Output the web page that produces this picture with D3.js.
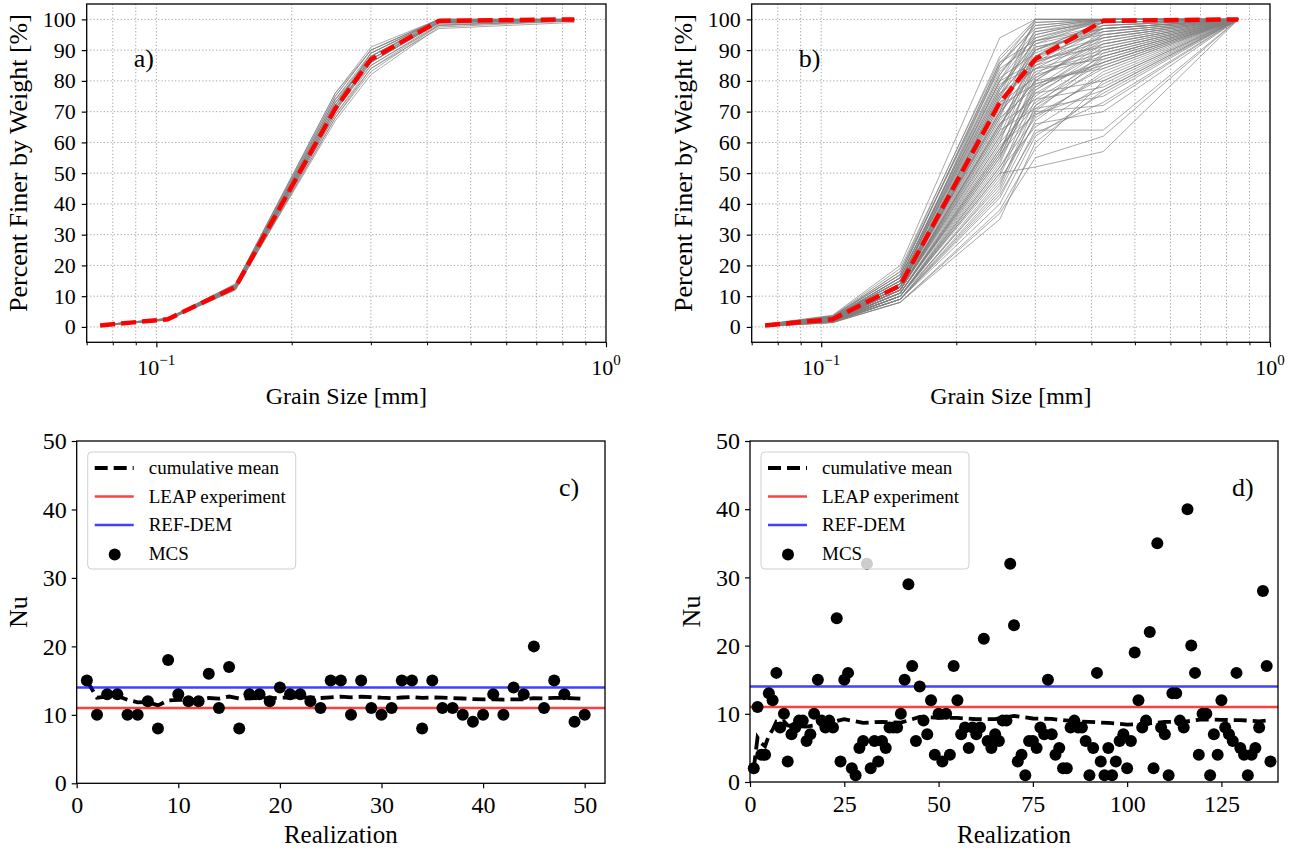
<!DOCTYPE html>
<html>
<head>
<meta charset="utf-8">
<script src="https://cdn.jsdelivr.net/npm/d3@7/dist/d3.min.js"></script>
<style>
body { margin: 0; background: #fff; }
text { font-family: 'Liberation Serif', 'Times New Roman', serif; fill: #000; }
</style>
</head>
<body>
<div id="chart"></div>
<script>
// sieve sizes [mm]
const sieve = [0.075, 0.106, 0.15, 0.25, 0.3, 0.425, 0.85];

// mean gradation curves (red dashed)
const meanA = [0.5, 2.5, 13, 71, 87, 99.5, 100];
const meanB = [0.5, 2.5, 13.5, 73, 87, 99.5, 100];

// realizations of panel a (tight band)
const curvesA = [
  [0.5, 2.4, 12.5, 70, 86, 99, 100],
  [0.5, 2.6, 13.5, 74, 89, 100, 100],
  [0.4, 2.3, 12, 68, 83, 98, 100],
  [0.6, 2.7, 14, 75, 90, 100, 100],
  [0.5, 2.5, 13, 72, 88, 99.5, 100],
  [0.5, 2.5, 12.8, 69, 84, 97, 99],
  [0.5, 2.6, 13.2, 73, 87, 99, 100],
  [0.4, 2.2, 12.2, 67, 82, 97.5, 99.5],
  [0.6, 2.8, 14, 76, 91, 100, 100],
  [0.5, 2.4, 12.6, 71, 86, 99, 100],
  [0.5, 2.5, 13, 72, 89, 100, 100],
  [0.5, 2.5, 13.4, 74, 88, 99, 100],
  [0.4, 2.3, 12.4, 69, 85, 98.5, 99.8],
  [0.5, 2.7, 13.6, 75, 90, 99.8, 100],
  [0.5, 2.5, 13, 70, 87, 99, 100],
  [0.5, 2.4, 12.8, 71, 85, 98, 99.6],
  [0.6, 2.6, 13.3, 73, 88, 100, 100],
  [0.5, 2.5, 12.9, 72, 86, 99.2, 100],
  [0.5, 2.5, 13.1, 71, 89, 99.6, 100],
  [0.4, 2.3, 12.3, 68, 84, 98.2, 99.4],
  [0.6, 2.7, 13.8, 76, 90, 100, 100],
  [0.5, 2.5, 13, 73, 87, 99, 100],
  [0.5, 2.4, 12.7, 70, 88, 99.3, 100],
  [0.5, 2.6, 13.2, 74, 86, 98.8, 100],
  [0.5, 2.5, 13, 71, 87, 99.5, 100]
];

// realizations of panel b (wide band)
const curvesB = [
  [0.5, 2.5, 13, 72, 88, 99, 100], [0.3, 2, 10, 55, 80, 95, 100],
  [0.6, 3, 15, 80, 95, 100, 100], [0.4, 2, 9, 45, 70, 88, 100],
  [0.8, 3.5, 18, 88, 100, 100, 100], [0.2, 1.5, 8, 38, 58, 80, 100],
  [0.5, 2.5, 12, 65, 85, 97, 100], [0.7, 3, 16, 82, 98, 100, 100],
  [0.3, 1.8, 11, 58, 75, 90, 100], [0.5, 2.2, 13, 70, 92, 100, 100],
  [0.9, 3.8, 20, 94, 100, 100, 100], [0.4, 2, 10, 50, 52, 57, 100],
  [0.3, 1.6, 9, 42, 64, 64, 100], [0.5, 2.7, 14, 75, 90, 99, 100],
  [0.6, 2.9, 12, 68, 78, 86, 100], [0.2, 1.4, 8, 35, 60, 77, 100],
  [0.5, 2.4, 12, 62, 88, 100, 100], [0.4, 2.1, 11, 56, 70, 72, 100],
  [0.7, 3.2, 15, 78, 93, 98, 100], [0.5, 2.6, 13, 74, 84, 90, 100],
  [0.3, 1.9, 10, 52, 68, 82, 100], [0.6, 3, 14, 85, 100, 100, 100],
  [0.4, 2.3, 12, 66, 80, 94, 100], [0.5, 2.5, 11, 60, 73, 86, 100],
  [0.8, 3.4, 17, 86, 97, 100, 100], [0.3, 1.7, 9, 48, 66, 70, 100],
  [0.6, 2.8, 13, 76, 88, 96, 100], [0.5, 2.4, 12, 64, 90, 99, 100],
  [0.4, 2, 10, 54, 78, 92, 100], [0.7, 3.1, 16, 80, 86, 93, 100],
  [0.5, 2.6, 14, 70, 82, 88, 100], [0.2, 1.5, 9, 40, 62, 76, 100],
  [0.6, 2.9, 15, 77, 96, 100, 100], [0.4, 2.2, 11, 58, 72, 84, 100],
  [0.5, 2.5, 13, 68, 94, 100, 100], [0.3, 1.8, 10, 46, 72, 89, 100],
  [0.7, 3.3, 18, 84, 92, 97, 100], [0.5, 2.3, 12, 63, 76, 80, 100],
  [0.4, 2.1, 11, 57, 84, 95, 100], [0.6, 2.7, 14, 73, 87, 91, 100],
  [0.5, 2.5, 12, 66, 74, 78, 100], [0.8, 3.6, 19, 87, 99, 100, 100],
  [0.3, 1.7, 9, 44, 67, 83, 100], [0.5, 2.6, 13, 71, 90, 97, 100],
  [0.6, 3, 15, 79, 85, 92, 100], [0.4, 2, 10, 53, 79, 86, 100],
  [0.5, 2.4, 12, 61, 82, 96, 100], [0.7, 3.2, 16, 83, 94, 99, 100],
  [0.4, 2.1, 11, 59, 69, 77, 100], [0.5, 2.5, 13, 69, 86, 94, 100],
  [0.3, 1.9, 10, 50, 77, 91, 100], [0.6, 2.8, 14, 75, 100, 100, 100],
  [0.5, 2.3, 12, 64, 71, 75, 100], [0.4, 2.2, 11, 55, 81, 93, 100],
  [0.6, 2.9, 15, 78, 91, 95, 100], [0.5, 2.6, 13, 72, 79, 85, 100],
  [0.2, 1.4, 8, 37, 55, 62, 100], [0.7, 3, 16, 81, 89, 98, 100],
  [0.5, 2.5, 12, 67, 83, 89, 100], [0.4, 2, 10, 49, 74, 87, 100],
  [0.6, 2.7, 14, 74, 97, 100, 100], [0.5, 2.4, 13, 65, 88, 94, 100],
  [0.3, 1.8, 10, 51, 65, 79, 100], [0.8, 3.5, 17, 86, 93, 100, 100],
  [0.5, 2.5, 12, 62, 77, 90, 100], [0.6, 2.8, 14, 76, 84, 87, 100],
  [0.4, 2.1, 11, 56, 86, 98, 100], [0.5, 2.6, 13, 70, 95, 100, 100],
  [0.7, 3.1, 15, 80, 99, 100, 100], [0.4, 2, 9, 47, 69, 81, 100],
  [0.6, 2.7, 13, 73, 81, 92, 100], [0.5, 2.5, 14, 69, 91, 96, 100],
  [0.3, 1.6, 9, 43, 63, 73, 100], [0.6, 3, 16, 82, 96, 99, 100],
  [0.5, 2.3, 12, 60, 87, 97, 100], [0.4, 2.2, 11, 57, 76, 88, 100],
  [0.7, 3.3, 17, 85, 98, 100, 100], [0.5, 2.4, 12, 66, 80, 84, 100],
  [0.6, 2.9, 14, 77, 93, 97, 100], [0.3, 1.9, 10, 52, 71, 85, 100]
];

// Nu per realization, panel c (50 runs)
const nuC = [15, 10, 13, 13, 10, 10, 12, 8, 18, 13, 12, 12, 16, 11, 17, 8, 13, 13, 12, 14,
  13, 13, 12, 11, 15, 15, 10, 15, 11, 10, 11, 15, 15, 8, 15, 11, 11, 10, 9, 10,
  13, 10, 14, 13, 20, 11, 15, 13, 9, 10];
const cumC = [15, 12.5, 12.67, 12.75, 12.2, 11.83, 11.86, 11.38, 12.11, 12.2, 12.18, 12.17,
  12.46, 12.36, 12.67, 12.38, 12.41, 12.44, 12.42, 12.5, 12.52, 12.55, 12.52, 12.46,
  12.56, 12.65, 12.56, 12.64, 12.59, 12.5, 12.45, 12.53, 12.61, 12.47, 12.54, 12.5,
  12.46, 12.39, 12.31, 12.25, 12.27, 12.21, 12.26, 12.27, 12.44, 12.41, 12.47, 12.48,
  12.41, 12.36];

// Nu per realization, panel d (138 runs)
const nuD = [2, 11, 4, 4, 13, 12, 16, 8, 10, 3, 7, 8, 9, 9, 6, 7, 10, 15, 9, 8,
  9, 8, 24, 3, 15, 16, 2, 1, 5, 6, 32, 2, 6, 3, 6, 5, 8, 8, 8, 10,
  15, 29, 17, 6, 14, 9, 7, 12, 4, 10, 3, 10, 4, 17, 12, 7, 8, 5, 8, 7,
  8, 21, 6, 5, 7, 6, 9, 9, 32, 23, 3, 4, 1, 6, 6, 5, 8, 7, 15, 7,
  4, 5, 2, 2, 8, 9, 8, 8, 6, 1, 5, 16, 3, 1, 5, 1, 3, 6, 7, 2,
  6, 19, 12, 8, 9, 22, 2, 35, 8, 7, 1, 13, 13, 9, 8, 40, 20, 16, 4, 10,
  10, 1, 7, 4, 12, 8, 7, 6, 16, 5, 4, 1, 4, 5, 8, 28, 17, 3];
const cumDx = [1, 2, 3, 4, 5, 6, 7, 8, 9, 10, 12, 15, 20, 25, 30, 35, 40, 45, 50, 55, 60,
  65, 70, 75, 80, 85, 90, 95, 100, 105, 110, 115, 120, 125, 130, 135, 138];
const cumD = [2, 6.5, 5.67, 5.25, 6.8, 7.67, 8.86, 8.75, 8.89, 8.3, 8.17, 8.13, 8.55, 9.2,
  8.67, 8.83, 8.7, 9.53, 9.42, 9.4, 9.2, 9.22, 9.69, 9.31, 9.25, 8.95, 8.81, 8.66,
  8.42, 8.53, 8.82, 8.82, 9.2, 9.1, 9.08, 8.9, 9.06];

const leapNu = 11;
const refDemNu = 14;

const gridMinor = [0.08, 0.09, 0.1, 0.2, 0.3, 0.4, 0.5, 0.6, 0.7, 0.8, 0.9];
const logMajor = [{v: 0.1, e: '\u22121'}, {v: 1, e: '0'}];
const pctTicks = [0, 10, 20, 30, 40, 50, 60, 70, 80, 90, 100];
const nuTicks = [0, 10, 20, 30, 40, 50];

const width = 1296;
const height = 858;
const serif = "'Liberation Serif', 'Times New Roman', serif";
const dotR = 6;

const svg = d3.select('#chart')
  .append('svg')
    .attr('width', width)
    .attr('height', height);

const drawGrain = (p, curves, mean, tag) => {
  const x = d3.scaleLog().domain([0.07, 1]).range([p.x0, p.x1]);
  const y = d3.scaleLinear().domain([-5, 105]).range([p.y1, p.y0]);
  const g = svg.append('g');

  // dotted grid
  g.selectAll('.vgrid').data(gridMinor).join('line')
    .attr('x1', d => x(d)).attr('x2', d => x(d))
    .attr('y1', p.y0).attr('y2', p.y1)
    .attr('stroke', '#a0a0a0').attr('stroke-width', 1)
    .attr('stroke-dasharray', '1.2,2.2');
  g.selectAll('.hgrid').data(pctTicks).join('line')
    .attr('x1', p.x0).attr('x2', p.x1)
    .attr('y1', d => y(d)).attr('y2', d => y(d))
    .attr('stroke', '#a0a0a0').attr('stroke-width', 1)
    .attr('stroke-dasharray', '1.2,2.2');

  const line = d3.line().x((d, i) => x(sieve[i])).y(d => y(d));

  g.selectAll('.real').data(curves).join('path')
    .attr('d', line)
    .attr('fill', 'none')
    .attr('stroke', '#808080')
    .attr('stroke-width', 0.8)
    .attr('stroke-opacity', 0.85);

  g.append('path')
    .attr('d', line(mean))
    .attr('fill', 'none')
    .attr('stroke', '#ff0000')
    .attr('stroke-width', 4.5)
    .attr('stroke-dasharray', '15,6');

  // y axis
  g.append('g')
    .attr('transform', `translate(${p.x0},0)`)
    .call(d3.axisLeft(y).tickValues(pctTicks).tickSize(5).tickPadding(6))
    .call(a => a.select('.domain').remove())
    .call(a => a.selectAll('.tick line').attr('stroke-width', 1.2))
    .call(a => a.selectAll('.tick text').style('font', `22px ${serif}`));

  // x axis: minor ticks + major ticks with 10^n labels
  g.append('g')
    .attr('transform', `translate(0,${p.y1})`)
    .call(d3.axisBottom(x).tickValues(gridMinor.concat([0.07]).filter(d => d !== 0.1)).tickSize(3).tickFormat(''))
    .call(a => a.select('.domain').remove());
  g.append('g')
    .attr('transform', `translate(0,${p.y1})`)
    .call(d3.axisBottom(x).tickValues(logMajor.map(d => d.v)).tickSize(5).tickFormat(''))
    .call(a => a.select('.domain').remove())
    .call(a => a.selectAll('.tick line').attr('stroke-width', 1.2));

  const lab = g.selectAll('.xlab').data(logMajor).join('text')
    .attr('x', d => x(d.v))
    .attr('y', p.y1 + 33)
    .attr('text-anchor', 'middle')
    .style('font', `22px ${serif}`)
    .text('10');
  lab.append('tspan')
    .attr('dy', -10)
    .style('font-size', '15px')
    .text(d => d.e);

  g.append('rect')
    .attr('x', p.x0).attr('y', p.y0)
    .attr('width', p.x1 - p.x0).attr('height', p.y1 - p.y0)
    .attr('fill', 'none').attr('stroke', '#000').attr('stroke-width', 1.3);

  g.append('text')
    .attr('x', (p.x0 + p.x1) / 2)
    .attr('y', 404)
    .attr('text-anchor', 'middle')
    .style('font', `24px ${serif}`)
    .text('Grain Size [mm]');

  g.append('text')
    .attr('transform', `translate(${p.x0 - 60},${163}) rotate(-90)`)
    .attr('text-anchor', 'middle')
    .style('font', `26px ${serif}`)
    .text('Percent Finer by Weight [%]');

  g.append('text')
    .attr('x', p.x0 + 47)
    .attr('y', 67)
    .style('font', `26px ${serif}`)
    .text(tag);
};

const drawNu = (p, nu, cx, cy, xmax, xTicks, tag) => {
  const x = d3.scaleLinear().domain([0, xmax]).range([p.x0, p.x1]);
  const y = d3.scaleLinear().domain([0, 50]).range([p.y1, p.y0]);
  const g = svg.append('g');

  g.append('path')
    .attr('d', d3.line().x((d, i) => x(cx[i])).y(d => y(d))(cy))
    .attr('fill', 'none')
    .attr('stroke', '#000')
    .attr('stroke-width', 3.8)
    .attr('stroke-dasharray', '13,6');

  g.append('line')
    .attr('x1', p.x0).attr('x2', p.x1)
    .attr('y1', y(leapNu)).attr('y2', y(leapNu))
    .attr('stroke', '#ff0000').attr('stroke-opacity', 0.75).attr('stroke-width', 2.5);
  g.append('line')
    .attr('x1', p.x0).attr('x2', p.x1)
    .attr('y1', y(refDemNu)).attr('y2', y(refDemNu))
    .attr('stroke', '#0000ff').attr('stroke-opacity', 0.75).attr('stroke-width', 2.5);

  g.selectAll('.mcs').data(nu).join('circle')
    .attr('cx', (d, i) => x(i + 1))
    .attr('cy', d => y(d))
    .attr('r', dotR)
    .attr('fill', '#000');

  g.append('g')
    .attr('transform', `translate(${p.x0},0)`)
    .call(d3.axisLeft(y).tickValues(nuTicks).tickSize(5).tickPadding(5))
    .call(a => a.select('.domain').remove())
    .call(a => a.selectAll('.tick line').attr('stroke-width', 1.2))
    .call(a => a.selectAll('.tick text').style('font', `24px ${serif}`));

  g.append('g')
    .attr('transform', `translate(0,${p.y1})`)
    .call(d3.axisBottom(x).tickValues(xTicks).tickSize(5).tickPadding(8))
    .call(a => a.select('.domain').remove())
    .call(a => a.selectAll('.tick line').attr('stroke-width', 1.2))
    .call(a => a.selectAll('.tick text').style('font', `24px ${serif}`));

  g.append('rect')
    .attr('x', p.x0).attr('y', p.y0)
    .attr('width', p.x1 - p.x0).attr('height', p.y1 - p.y0)
    .attr('fill', 'none').attr('stroke', '#000').attr('stroke-width', 1.3);

  g.append('text')
    .attr('x', (p.x0 + p.x1) / 2)
    .attr('y', 843)
    .attr('text-anchor', 'middle')
    .style('font', `25px ${serif}`)
    .text('Realization');

  g.append('text')
    .attr('transform', `translate(${p.x0 - 50},${(p.y0 + p.y1) / 2}) rotate(-90)`)
    .attr('text-anchor', 'middle')
    .style('font', `26px ${serif}`)
    .text('Nu');

  g.append('text')
    .attr('x', p.x1 - 46)
    .attr('y', 496)
    .style('font', `26px ${serif}`)
    .text(tag);

  // legend, semi-transparent like matplotlib
  const lg = g.append('g').attr('transform', `translate(${p.x0 + 11},${p.y0 + 11})`);
  lg.append('rect')
    .attr('width', 208).attr('height', 117).attr('rx', 4)
    .attr('fill', '#fff').attr('fill-opacity', 0.8)
    .attr('stroke', '#d0d0d0').attr('stroke-width', 1);
  const items = [
    {name: 'cumulative mean', type: 'dash'},
    {name: 'LEAP experiment', type: 'red'},
    {name: 'REF-DEM', type: 'blue'},
    {name: 'MCS', type: 'dot'}
  ];
  items.forEach((it, i) => {
    const yy = 16 + i * 28.5;
    if (it.type === 'dot') {
      lg.append('circle').attr('cx', 27).attr('cy', yy + 1).attr('r', dotR).attr('fill', '#000');
    } else if (it.type === 'dash') {
      lg.append('line').attr('x1', 7).attr('x2', 46).attr('y1', yy).attr('y2', yy)
        .attr('stroke', '#000').attr('stroke-width', 3.8).attr('stroke-dasharray', '13,6');
    } else {
      lg.append('line').attr('x1', 7).attr('x2', 46).attr('y1', yy).attr('y2', yy)
        .attr('stroke', it.type === 'red' ? '#ff0000' : '#0000ff')
        .attr('stroke-opacity', 0.75).attr('stroke-width', 2.5);
    }
    lg.append('text')
      .attr('x', 61).attr('y', yy + 6)
      .style('font', `19px ${serif}`)
      .text(it.name);
  });
};

drawGrain({x0: 86.7, x1: 606, y0: 4, y1: 342.3}, curvesA, meanA, 'a)');
drawGrain({x0: 751.7, x1: 1270, y0: 4, y1: 342.3}, curvesB, meanB, 'b)');
drawNu({x0: 76.7, x1: 605, y0: 441, y1: 783.3}, nuC, d3.range(1, nuC.length + 1), cumC, 52,
  [0, 10, 20, 30, 40, 50], 'c)');
drawNu({x0: 750, x1: 1278, y0: 441, y1: 782}, nuD, cumDx, cumD, 140,
  [0, 25, 50, 75, 100, 125], 'd)');
</script>
</body>
</html>
